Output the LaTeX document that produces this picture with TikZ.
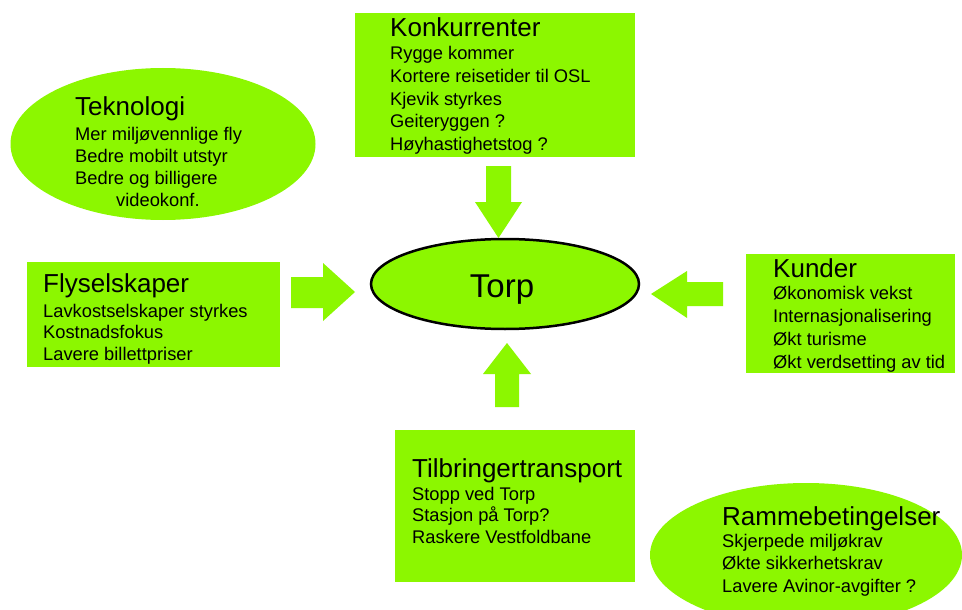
\documentclass[tikz,border=0pt]{standalone}
\usepackage{fontspec}
\setmainfont{Liberation Sans}
\usetikzlibrary{shapes.geometric}
\definecolor{limegreen}{RGB}{140,247,0}
\tikzset{
  box/.style={fill=limegreen, draw=none, anchor=north west, inner sep=0pt},
  oval/.style={ellipse, fill=limegreen, draw=none, inner sep=0pt},
  titletext/.style={anchor=base west, inner sep=0pt, font=\fontsize{26}{30}\selectfont},
  bodytext/.style={anchor=base west, inner sep=0pt, font=\fontsize{18.3}{22}\selectfont},
  blockarrow/.style={fill=limegreen, draw=none}
}
\begin{document}
\begin{tikzpicture}[x=1pt,y=-1pt]
\useasboundingbox[fill=white] (0,0) rectangle (962,610);

% shapes
\node[box, minimum width=280pt, minimum height=144pt] (konk) at (355,13) {};
\node[box, minimum width=253pt, minimum height=105pt] (fly) at (27,262) {};
\node[box, minimum width=209pt, minimum height=119pt] (kund) at (746,254) {};
\node[box, minimum width=240pt, minimum height=152pt] (tilb) at (395,430) {};
\node[oval, minimum width=305pt, minimum height=152pt] (tek) at (163,144) {};
\node[oval, minimum width=312pt, minimum height=144pt] (ramme) at (806,555) {};
\node[ellipse, fill=limegreen, draw=black, line width=2.5pt, inner sep=0pt,
      minimum width=268pt, minimum height=90pt] (torp) at (505,284) {};
\node[anchor=base, inner sep=0pt, font=\fontsize{33}{36}\selectfont] (torpT) at (502,297) {Torp};

% block arrows
\fill[blockarrow] (486,166) -- (511,166) -- (511,202) -- (522,202) -- (498.5,238)
   -- (475,202) -- (486,202) -- cycle;
\fill[blockarrow] (291,277) -- (323,277) -- (323,263) -- (355,292) -- (323,321)
   -- (323,308) -- (291,308) -- cycle;
\fill[blockarrow] (723,282) -- (687,282) -- (687,271) -- (651,294) -- (687,318)
   -- (687,306) -- (723,306) -- cycle;
\fill[blockarrow] (495,407) -- (519,407) -- (519,374) -- (531,374) -- (507,343)
   -- (483,374) -- (495,374) -- cycle;

% Konkurrenter
\node[titletext] (konkT) at (390,37) {Konkurrenter};
\foreach \t [count=\i] in {Rygge kommer, Kortere reisetider til OSL, Kjevik styrkes, Geiteryggen ?, Høyhastighetstog ?}
  \node[bodytext] (konk\i) at (390,{60+(\i-1)*22.6}) {\t};

% Teknologi
\node[titletext] (tekT) at (75,115) {Teknologi};
\foreach \t [count=\i] in {Mer miljøvennlige fly, Bedre mobilt utstyr, Bedre og billigere}
  \node[bodytext] (tek\i) at (75,{140+(\i-1)*22}) {\t};
\node[bodytext] (tek4) at (116,206) {videokonf.};

% Flyselskaper
\node[titletext] (flyT) at (43,292) {Flyselskaper};
\foreach \t [count=\i] in {Lavkostselskaper styrkes, Kostnadsfokus, Lavere billettpriser}
  \node[bodytext] (fly\i) at (43,{317+(\i-1)*21.5}) {\t};

% Kunder
\node[titletext] (kundT) at (773,277) {Kunder};
\foreach \t [count=\i] in {Økonomisk vekst, Internasjonalisering, Økt turisme, Økt verdsetting av tid}
  \node[bodytext] (kund\i) at (773,{299+(\i-1)*23}) {\t};

% Tilbringertransport
\node[titletext] (tilbT) at (412,477) {Tilbringertransport};
\foreach \t [count=\i] in {Stopp ved Torp, Stasjon på Torp?, Raskere Vestfoldbane}
  \node[bodytext] (tilb\i) at (412,{500+(\i-1)*21.7}) {\t};

% Rammebetingelser
\node[titletext] (rammeT) at (722,525) {Rammebetingelser};
\foreach \t [count=\i] in {Skjerpede miljøkrav, Økte sikkerhetskrav, Lavere Avinor-avgifter ?}
  \node[bodytext] (ramme\i) at (722,{547+(\i-1)*22.5}) {\t};
\end{tikzpicture}
\end{document}
